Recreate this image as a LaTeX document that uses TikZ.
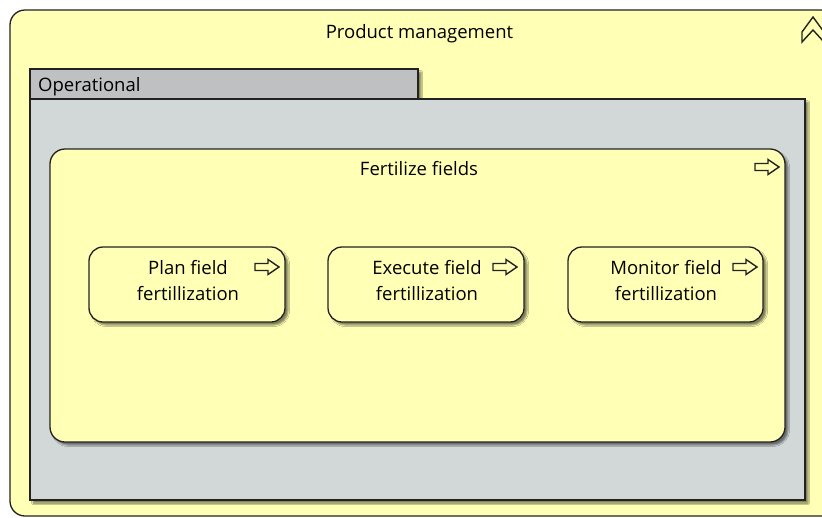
\documentclass[tikz,border=0pt]{standalone}
\usepackage{fontspec}
\setmainfont{Open Sans}
\usetikzlibrary{shadows.blur}
\definecolor{bizyellow}{HTML}{FFFFB5}
\definecolor{grpbody}{HTML}{D2D7D7}
\definecolor{grptab}{HTML}{BEC0C2}
\definecolor{edgecol}{HTML}{222222}

\tikzset{
  lbl/.style={font=\fontsize{18.5}{26}\selectfont, text=black, align=center, inner sep=0pt},
  dropshadow/.style={blur shadow={shadow xshift=3pt, shadow yshift=-3pt,
      shadow blur radius=1.5pt, shadow blur steps=4, shadow opacity=50}},
  funcbox/.style={draw=edgecol, line width=1.3pt, fill=bizyellow,
      rounded corners=15pt, anchor=north west, inner sep=0pt, outer sep=0pt},
  procbox/.style={funcbox, rounded corners=14pt, dropshadow},
  grouptab/.style={draw=edgecol, line width=1.3pt, fill=grptab,
      anchor=north west, inner sep=0pt, outer sep=0pt, dropshadow},
  groupbody/.style={draw=edgecol, line width=1.3pt, fill=grpbody,
      anchor=north west, inner sep=0pt, outer sep=0pt, dropshadow},
  iconline/.style={draw=edgecol, line width=1.4pt, line join=miter},
  % right-pointing outlined arrow of a process element
  procicon/.pic={
    \path[iconline, fill=bizyellow] (-12,-3.5) -- (1,-3.5) -- (1,-7.5) -- (12,0)
      -- (1,7.5) -- (1,3.5) -- (-12,3.5) -- cycle;
  },
  % upward chevron of a function element
  funcicon/.pic={
    \path[iconline, fill=bizyellow] (-11,12) -- (-11,2) -- (0,-13) -- (11,2)
      -- (11,12) -- (0,0) -- cycle;
  },
}

\begin{document}
\begin{tikzpicture}[x=1pt, y=-1pt]
  \fill[white] (0,0) rectangle (822,517);
  \clip (0,0) rectangle (822,517);

  % outer function
  \node[funcbox, minimum width=826pt, minimum height=506pt] (prodmgmt) at (10,10) {};
  \node[lbl, anchor=base] (prodmgmtlbl) at (419.5,38) {Product management};
  \pic at (813,30) {funcicon};

  % grouping
  \node[grouptab, minimum width=388pt, minimum height=30pt] (optab) at (30,69) {};
  \node[groupbody, minimum width=775pt, minimum height=401pt] (opbody) at (30,99) {};
  \node[lbl, anchor=base west] (optablbl) at (38,91) {Operational};

  % inner process
  \node[funcbox, dropshadow, minimum width=735pt, minimum height=293pt] (fertilize) at (50,149) {};
  \node[lbl, anchor=base] (fertilizelbl) at (419,175) {Fertilize fields};
  \pic at (767,167) {procicon};

  % sub-processes
  \node[procbox, minimum width=196pt, minimum height=75pt] (plan) at (89,247) {};
  \node[lbl] (planlbl) at (188,281) {Plan field\\fertillization};
  \pic at (267,267) {procicon};

  \node[procbox, minimum width=196pt, minimum height=75pt] (execute) at (328,247) {};
  \node[lbl] (executelbl) at (427,281) {Execute field\\fertillization};
  \pic at (505,267) {procicon};

  \node[procbox, minimum width=195pt, minimum height=75pt] (monitor) at (568,247) {};
  \node[lbl] (monitorlbl) at (666,281) {Monitor field\\fertillization};
  \pic at (745,267) {procicon};
\end{tikzpicture}
\end{document}
